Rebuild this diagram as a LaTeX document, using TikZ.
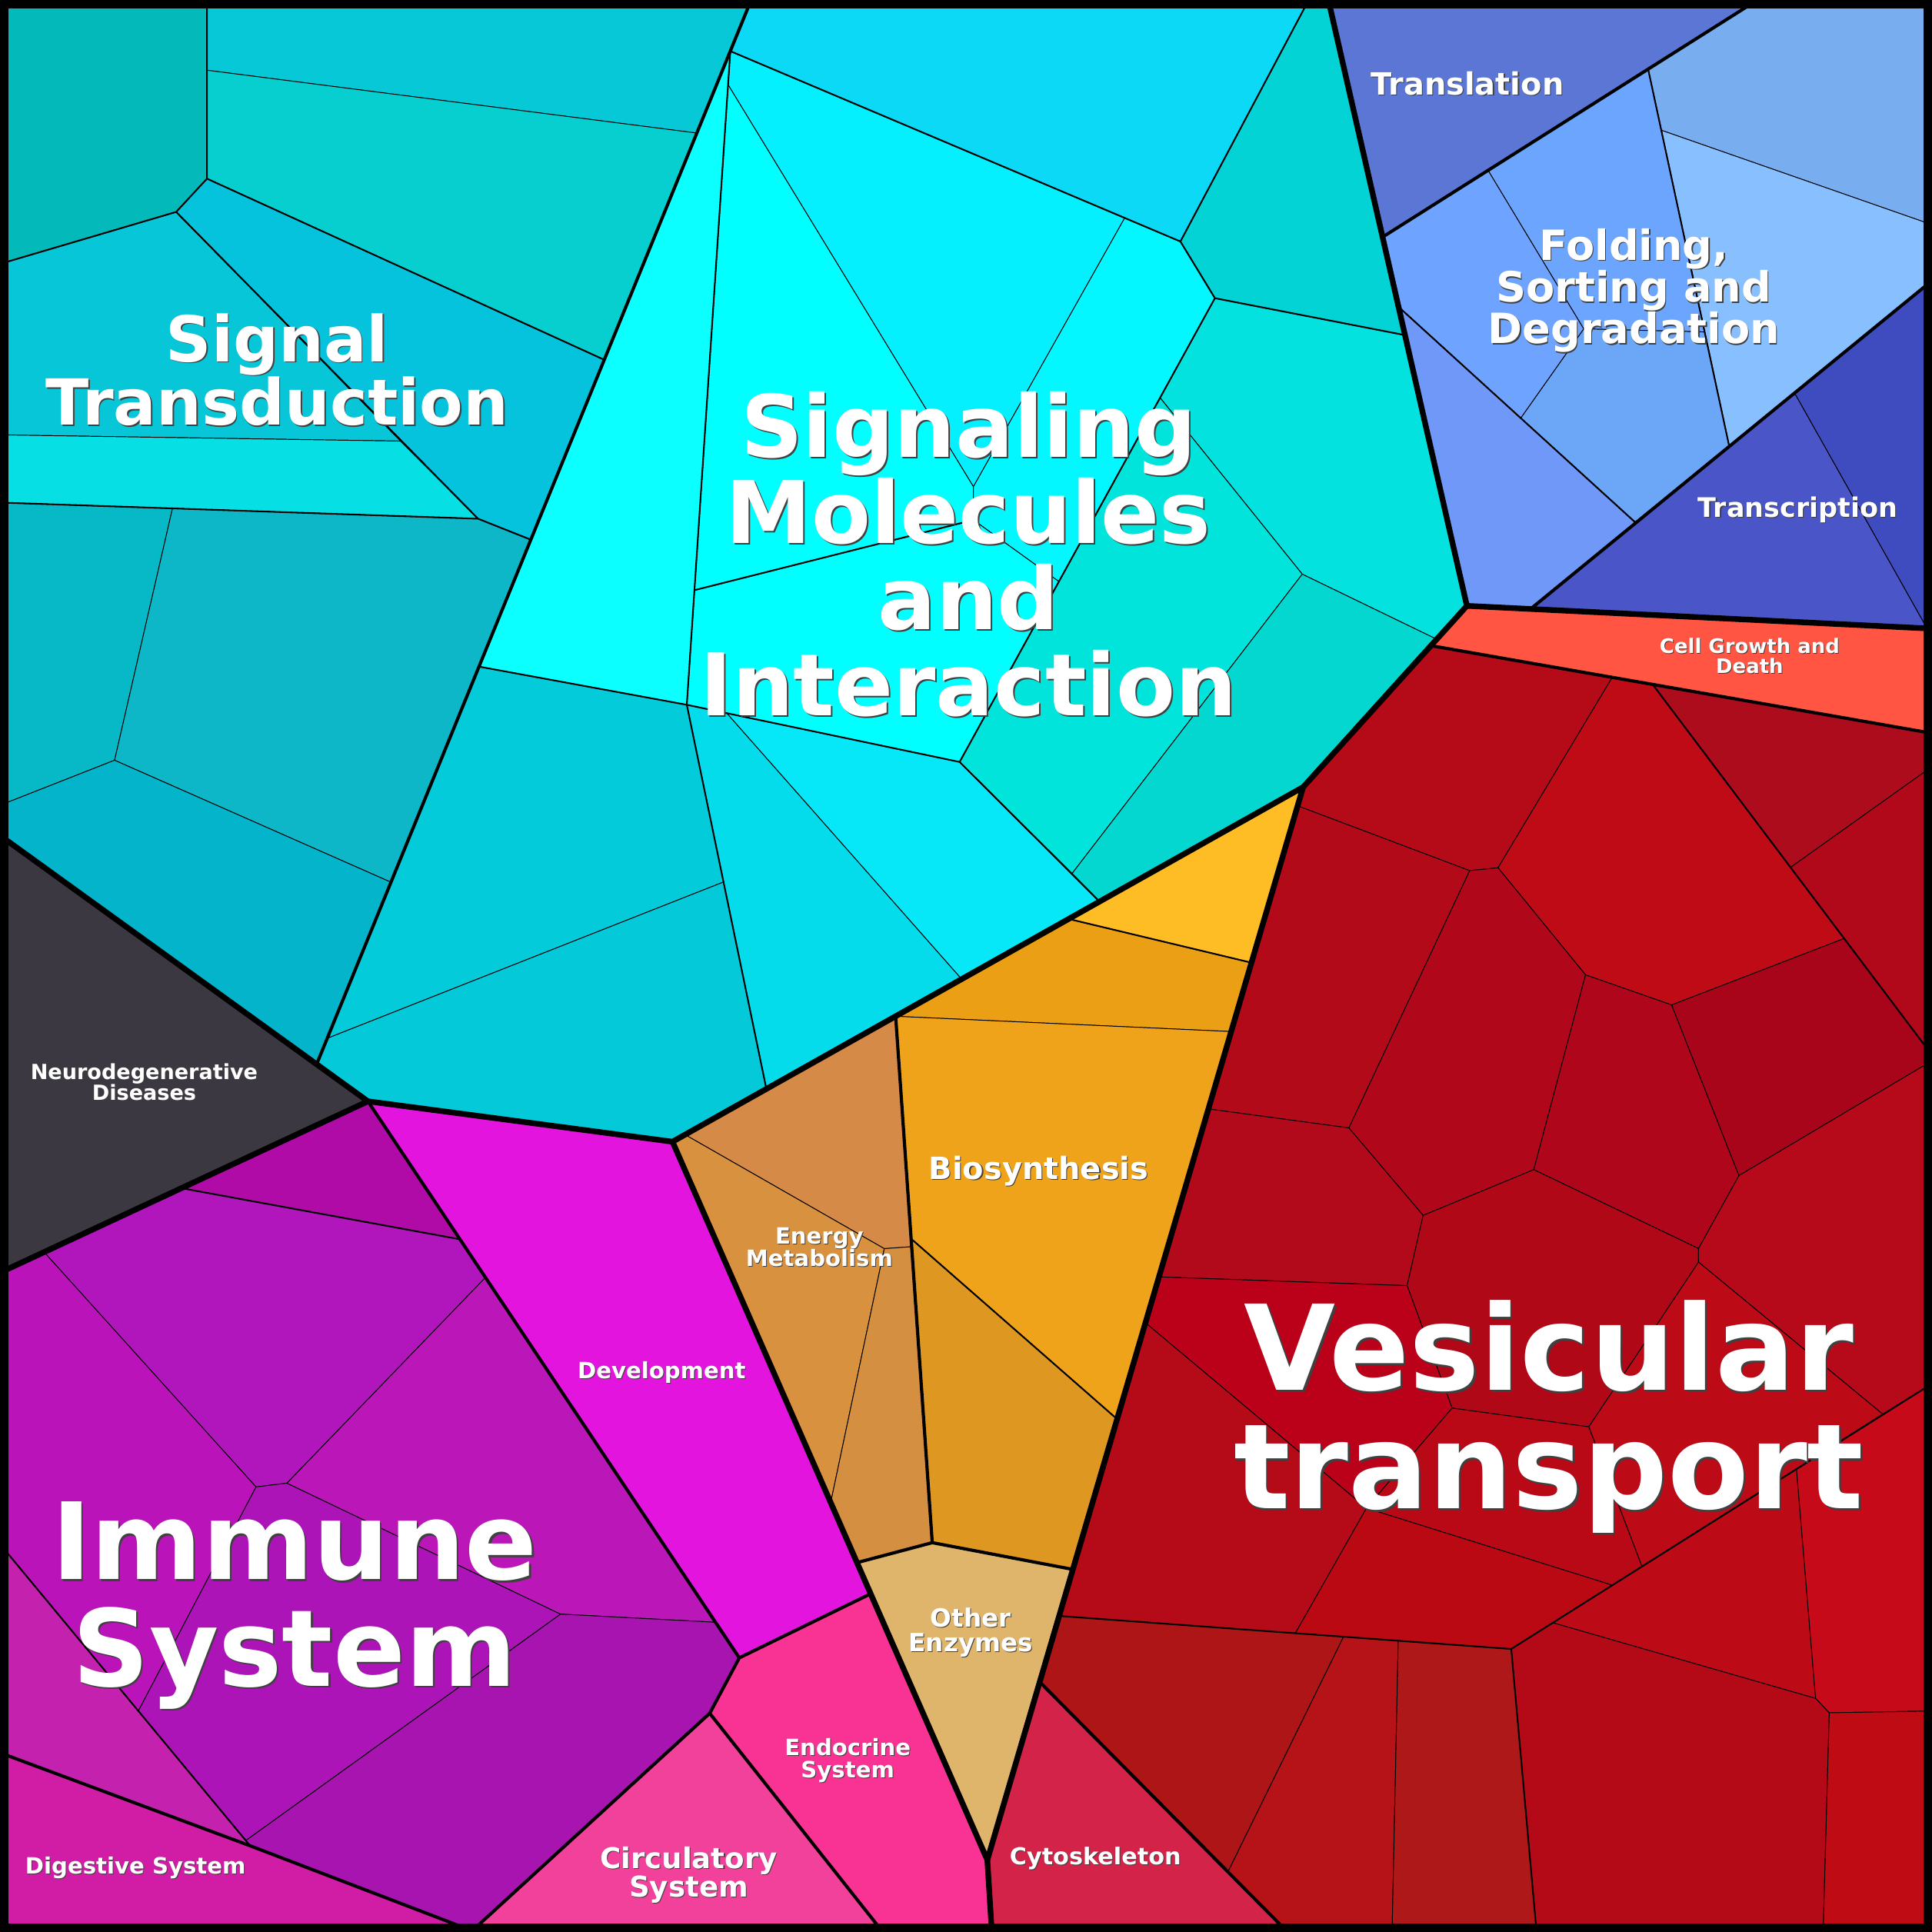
\documentclass[tikz,border=0pt]{standalone}
\usepackage{fontspec}
\setmainfont{DejaVu Sans}
\tikzset{hx/.code={\definecolor{hxc}{HTML}{#1}\pgfkeysalso{fill=hxc}}}
\newcommand{\maplabel}[4]{%
  \pgfmathsetmacro{\lblshift}{0.4+0.012*#3}%
  \node[lblsh,font=\fontsize{#3}{#3}\selectfont\bfseries,xshift=\lblshift pt,yshift=-\lblshift pt] (#1-sh) at (#2) {#4};
  \node[lbl,font=\fontsize{#3}{#3}\selectfont\bfseries] (#1) at (#2) {#4};}
\begin{document}
\begin{tikzpicture}[x=1pt,y=-1pt,line join=round,
cell/.style={draw=black,line width=0.6pt},
grp/.style={line width=1.3pt},
sub/.style={line width=2.6pt},
cat/.style={line width=4.6pt},
lbl/.style={text=white,align=center,inner sep=0pt},
lblsh/.style={text=black!75,align=center,inner sep=0pt}]

\useasboundingbox (0,0) rectangle (1568,1568);
\fill[black] (0,0) rectangle (1568,1568);

\coordinate (TL) at (4,4);
\coordinate (TR) at (1564,4);
\coordinate (BL) at (4,1564);
\coordinate (BR) at (1564,1564);
\coordinate (A0) at (608,4);
\coordinate (A1) at (257,863.7);
\coordinate (NL) at (4,681);
\coordinate (ND) at (298.6,893.8);
\coordinate (NB) at (4,1031);
\coordinate (EM) at (545.8,926.6);
\coordinate (EC) at (1057.6,638.8);
\coordinate (EG) at (1190.5,491.7);
\coordinate (GT) at (1079,4);

\coordinate (s1) at (168,4);
\coordinate (s2) at (168,145);
\coordinate (s3) at (143,172);
\coordinate (s4) at (4,213);
\coordinate (s5) at (168,57);
\coordinate (s6) at (565.5,108);
\coordinate (s7) at (490.4,292);
\coordinate (s8) at (388,421);
\coordinate (s9) at (325,358);
\coordinate (s10) at (4,353);
\coordinate (s11) at (4,408);
\coordinate (s12) at (430.8,438);
\coordinate (s13) at (140,412.6);
\coordinate (s14) at (93,617);
\coordinate (s15) at (4,652);
\coordinate (s16) at (317.3,716);

\coordinate (m0) at (592.7,41.5);
\coordinate (m1) at (1060,4);
\coordinate (m2) at (958,196);
\coordinate (m3) at (986,242);
\coordinate (m4) at (1140.3,272);
\coordinate (m5) at (912.8,176.9);
\coordinate (m6) at (590.9,68.8);
\coordinate (m7) at (563.6,479);
\coordinate (m8) at (557.4,572);
\coordinate (m9) at (388.7,541);
\coordinate (m10) at (778.8,618.4);
\coordinate (m11) at (892.4,731.7);
\coordinate (m12) at (622,883.8);
\coordinate (m13) at (265.6,842.7);
\coordinate (m14) at (587.3,715.8);
\coordinate (m15) at (589.9,578.8);
\coordinate (m16) at (780.5,794.6);
\coordinate (m17) at (941.5,322.8);
\coordinate (m18) at (1056.9,466);
\coordinate (m19) at (1166,518.8);
\coordinate (m20) at (870.1,708.9);
\coordinate (Q1) at (790,395);
\coordinate (Q2) at (790,422);
\coordinate (Q3) at (859.4,472);

\coordinate (g1) at (1420,4);
\coordinate (g2) at (1122.1,192.4);
\coordinate (g3) at (1564,181);
\coordinate (g4) at (1348.3,105.7);
\coordinate (g5) at (1337.6,56.1);
\coordinate (g6) at (1564,231);
\coordinate (g7) at (1403.3,361.7);
\coordinate (g8) at (1327,423.8);
\coordinate (g9) at (1242.2,494.2);
\coordinate (g10) at (1207.7,138.3);
\coordinate (g11) at (1285.3,266.9);
\coordinate (g12) at (1383.5,269.4);
\coordinate (g13) at (1234.2,339.3);
\coordinate (g14) at (1135,249);
\coordinate (g15) at (1456.3,318.6);
\coordinate (g16) at (1564,510);

\coordinate (c1) at (1161.3,524);
\coordinate (c2) at (1564,594.4);
\coordinate (P2) at (1308.5,549.7);
\coordinate (P3) at (1341.3,555.5);
\coordinate (P4) at (1215.8,704.3);
\coordinate (P5) at (1192.7,706.6);
\coordinate (P6) at (1053.1,654);
\coordinate (P7) at (1286.8,791.2);
\coordinate (P8) at (1356.7,815.6);
\coordinate (P9) at (1496.7,761.7);
\coordinate (P10) at (1564,851);
\coordinate (P11) at (1453.2,704);
\coordinate (P12) at (1564,625);
\coordinate (P13) at (1411.3,954.1);
\coordinate (P14) at (1564,863.3);
\coordinate (P15) at (1094.7,915.4);
\coordinate (P16) at (980.7,900);
\coordinate (P17) at (1244.8,949.3);
\coordinate (P18) at (1155,986.4);
\coordinate (P19) at (1378.5,1013.3);
\coordinate (P20) at (1378.5,1024.3);
\coordinate (P21) at (1528,1147.7);
\coordinate (P22) at (1564,1125.5);
\coordinate (P23) at (1289.5,1158);
\coordinate (P24) at (1142,1043.4);
\coordinate (P25) at (940.6,1036.3);
\coordinate (P26) at (1178.5,1142.8);
\coordinate (P28) at (929.6,1073.5);
\coordinate (P29) at (1109,1224);
\coordinate (P30) at (1308.5,1286.5);
\coordinate (P31) at (1332.6,1271.2);
\coordinate (P32) at (1458,1192);
\coordinate (P33) at (1226.5,1338.3);
\coordinate (P34) at (859.6,1311.5);
\coordinate (P35) at (1051.3,1325.5);
\coordinate (P36) at (1134.8,1331.7);
\coordinate (P37) at (1260.2,1317);
\coordinate (P38) at (1473.5,1378.4);
\coordinate (P39) at (1484.6,1390.1);
\coordinate (P40) at (1564,1388.7);
\coordinate (P41) at (1246.7,1564);
\coordinate (P42) at (1129.9,1564);
\coordinate (P43) at (1090.4,1328.4);
\coordinate (P44) at (996.6,1519.2);
\coordinate (P45) at (1479.8,1564);
\coordinate (CK) at (843.8,1365);
\coordinate (CB) at (1041,1564);
\coordinate (OC1) at (801.3,1509.5);
\coordinate (OC2) at (804.7,1564);

\coordinate (b1) at (867.3,745.8);
\coordinate (b2) at (1015.6,781.3);
\coordinate (b3) at (726.9,824.8);
\coordinate (b4) at (999.2,837.2);
\coordinate (b5) at (739.4,1005.3);
\coordinate (b6) at (906.6,1151.7);
\coordinate (b7) at (870.7,1273.7);
\coordinate (b8) at (756.6,1252);
\coordinate (e1) at (556,920.9);
\coordinate (e2) at (717.7,1013.4);
\coordinate (e3) at (739.9,1011.8);
\coordinate (e4) at (674.2,1219.4);
\coordinate (e5) at (695.6,1268.2);

\coordinate (DE) at (706.6,1293.5);
\coordinate (DI) at (600,1345.5);
\coordinate (IC) at (576,1390.5);
\coordinate (EC2) at (713.3,1564);
\coordinate (CI) at (386.5,1564);
\coordinate (i1) at (147.3,964.3);
\coordinate (i2) at (373.3,1005.8);
\coordinate (i3) at (35.8,1016.2);
\coordinate (i4) at (207.8,1206.8);
\coordinate (i5) at (232.9,1203.7);
\coordinate (i6) at (394,1036.8);
\coordinate (i7) at (455,1310);
\coordinate (i8) at (580.7,1316.6);
\coordinate (i9) at (112.3,1388.6);
\coordinate (i10) at (4,1258);
\coordinate (i11) at (203,1498);
\coordinate (i12) at (199.5,1493.8);
\coordinate (DG1) at (4,1424);
\coordinate (DG2) at (375.5,1564);

\filldraw[cell,hx=03B9BA] (TL)--(s1)--(s2)--(s3)--(s4)--cycle;
\filldraw[cell,hx=07C8D6] (s1)--(A0)--(s6)--(s5)--cycle;
\filldraw[cell,hx=08CFCF] (s5)--(s6)--(s7)--(s2)--cycle;
\filldraw[cell,hx=06C6D7] (s4)--(s3)--(s9)--(s10)--cycle;
\filldraw[cell,hx=05C3DC] (s3)--(s2)--(s7)--(s12)--(s8)--cycle;
\filldraw[cell,hx=06DFE3] (s10)--(s9)--(s8)--(s11)--cycle;
\filldraw[cell,hx=07B8C7] (s11)--(s13)--(s14)--(s15)--cycle;
\filldraw[cell,hx=0DB7C8] (s13)--(s8)--(s12)--(s16)--(s14)--cycle;
\filldraw[cell,hx=04B4CB] (s15)--(s14)--(s16)--(A1)--(NL)--cycle;

\filldraw[cell,hx=0CD9F6] (m0)--(A0)--(m1)--(m2)--cycle;
\filldraw[cell,hx=04D3D6] (m1)--(GT)--(m4)--(m3)--(m2)--cycle;
\filldraw[cell,hx=05F0FF] (m0)--(m5)--(Q1)--(m6)--cycle;
\filldraw[cell,hx=00FFFF] (m6)--(Q1)--(Q2)--(m7)--cycle;
\filldraw[cell,hx=02F7FF] (m5)--(m2)--(m3)--(m17)--(Q3)--(Q2)--(Q1)--cycle;
\filldraw[cell,hx=00FFFF] (m7)--(Q2)--(Q3)--(m10)--(m8)--cycle;
\filldraw[cell,hx=0CFFFF] (m0)--(m6)--(m7)--(m8)--(m9)--cycle;
\filldraw[cell,hx=04CBDA] (m9)--(m8)--(m14)--(m13)--cycle;
\filldraw[cell,hx=04C9D9] (m13)--(m14)--(m12)--(EM)--(ND)--(A1)--cycle;
\filldraw[cell,hx=04DCEC] (m8)--(m15)--(m16)--(m12)--cycle;
\filldraw[cell,hx=06E8F7] (m15)--(m10)--(m11)--(m16)--cycle;
\filldraw[cell,hx=03E2DE] (m3)--(m4)--(EG)--(m19)--(m18)--(m17)--cycle;
\filldraw[cell,hx=00E4DB] (m17)--(m18)--(m20)--(m10)--(Q3)--cycle;
\filldraw[cell,hx=04D6D0] (m18)--(m19)--(EC)--(m11)--(m20)--cycle;

\filldraw[cell,hx=3C3841] (NL)--(A1)--(ND)--(NB)--cycle;

\filldraw[cell,hx=5B76D4] (GT)--(g1)--(g2)--cycle;
\filldraw[cell,hx=78AEF0] (g1)--(TR)--(g3)--(g4)--(g5)--cycle;
\filldraw[cell,hx=88BFFF] (g4)--(g3)--(g6)--(g7)--cycle;
\filldraw[cell,hx=6CA5FD] (g10)--(g5)--(g12)--(g11)--cycle;
\filldraw[cell,hx=6BA6F7] (g11)--(g12)--(g7)--(g8)--(g13)--cycle;
\filldraw[cell,hx=6EA4FF] (g2)--(g10)--(g11)--(g13)--(g14)--cycle;
\filldraw[cell,hx=7098F8] (g14)--(g8)--(g9)--(EG)--cycle;
\filldraw[cell,hx=4A55C8] (g9)--(g15)--(g16)--cycle;
\filldraw[cell,hx=3F4CC0] (g15)--(g6)--(g16)--cycle;

\filldraw[cell,hx=FF5542] (EG)--(g16)--(c2)--(c1)--cycle;

\filldraw[cell,hx=B50A18] (EC)--(c1)--(P2)--(P4)--(P5)--(P6)--cycle;
\filldraw[cell,hx=BF0B15] (P2)--(P3)--(P9)--(P8)--(P7)--(P4)--cycle;
\filldraw[cell,hx=AD0C1C] (P3)--(c2)--(P12)--(P11)--cycle;
\filldraw[cell,hx=B1091A] (P11)--(P12)--(P10)--cycle;
\filldraw[cell,hx=B0081A] (P5)--(P4)--(P7)--(P17)--(P18)--(P15)--cycle;
\filldraw[cell,hx=B30A1A] (P6)--(P5)--(P15)--(P16)--cycle;
\filldraw[cell,hx=B0061B] (P7)--(P8)--(P13)--(P19)--(P17)--cycle;
\filldraw[cell,hx=A8051A] (P8)--(P9)--(P10)--(P14)--(P13)--cycle;
\filldraw[cell,hx=B20A1B] (P16)--(P15)--(P18)--(P24)--(P25)--cycle;
\filldraw[cell,hx=B00817] (P18)--(P17)--(P19)--(P20)--(P23)--(P26)--(P24)--cycle;
\filldraw[cell,hx=B6091A] (P13)--(P14)--(P22)--(P21)--(P20)--(P19)--cycle;
\filldraw[cell,hx=BB0019] (P25)--(P24)--(P26)--(P29)--(P28)--cycle;
\filldraw[cell,hx=B90816] (P26)--(P23)--(P31)--(P30)--(P29)--cycle;
\filldraw[cell,hx=BC0A16] (P20)--(P21)--(P32)--(P31)--(P23)--cycle;
\filldraw[cell,hx=B50A18] (P28)--(P29)--(P35)--(P34)--cycle;
\filldraw[cell,hx=BA0913] (P29)--(P30)--(P33)--(P35)--cycle;
\filldraw[cell,hx=BC0B16] (P37)--(P32)--(P38)--cycle;
\filldraw[cell,hx=C70A19] (P32)--(P21)--(P22)--(P40)--(P39)--(P38)--cycle;
\filldraw[cell,hx=B40A18] (P33)--(P37)--(P38)--(P39)--(P45)--(P41)--cycle;
\filldraw[cell,hx=BF0C14] (P39)--(P40)--(BR)--(P45)--cycle;
\filldraw[cell,hx=AD1517] (P34)--(P43)--(P44)--(CK)--cycle;
\filldraw[cell,hx=B51317] (P43)--(P36)--(P42)--(CB)--(P44)--cycle;
\filldraw[cell,hx=AE1818] (P36)--(P33)--(P41)--(P42)--cycle;
\filldraw[cell,hx=D42348] (CK)--(CB)--(OC2)--(OC1)--cycle;

\filldraw[cell,hx=D58A47] (e1)--(b3)--(e3)--(e2)--cycle;
\filldraw[cell,hx=D8913F] (EM)--(e1)--(e2)--(e4)--cycle;
\filldraw[cell,hx=D48F41] (e2)--(e3)--(b8)--(e5)--(e4)--cycle;
\filldraw[cell,hx=FEBD24] (b1)--(EC)--(b2)--cycle;
\filldraw[cell,hx=EB9F15] (b3)--(b1)--(b2)--(b4)--cycle;
\filldraw[cell,hx=EEA31A] (b3)--(b4)--(b6)--(b5)--cycle;
\filldraw[cell,hx=DE9822] (b5)--(b6)--(b7)--(b8)--cycle;
\filldraw[cell,hx=DFB56B] (e5)--(b8)--(b7)--(CK)--(OC1)--cycle;

\filldraw[cell,hx=E414DF] (ND)--(EM)--(DE)--(DI)--cycle;
\filldraw[cell,hx=F93393] (DI)--(DE)--(OC1)--(OC2)--(EC2)--(IC)--cycle;
\filldraw[cell,hx=F2419A] (IC)--(EC2)--(CI)--cycle;
\filldraw[cell,hx=B00BA7] (i1)--(ND)--(i2)--cycle;
\filldraw[cell,hx=B016BC] (i3)--(i1)--(i2)--(i6)--(i5)--(i4)--cycle;
\filldraw[cell,hx=BB13BA] (NB)--(i3)--(i4)--(i9)--(i10)--cycle;
\filldraw[cell,hx=C422AE] (i10)--(i9)--(i12)--(i11)--(DG1)--cycle;
\filldraw[cell,hx=AC14B8] (i4)--(i5)--(i7)--(i12)--(i9)--cycle;
\filldraw[cell,hx=BB16B8] (i5)--(i6)--(i8)--(i7)--cycle;
\filldraw[cell,hx=A714B0] (i7)--(i8)--(DI)--(IC)--(CI)--(DG2)--(i11)--(i12)--cycle;
\filldraw[cell,hx=D11CA5] (DG1)--(i11)--(DG2)--(BL)--cycle;

\draw[grp] (s1)--(s2)--(s3)--(s4) (s2)--(s7) (s3)--(s8) (s11)--(s8)--(s12);
\draw[grp] (m0)--(m8) (m0)--(m2)--(m1) (m2)--(m3)--(m4) (m3)--(m10) (m9)--(m8)--(m10)--(m11) (m8)--(m12) (m7)--(Q2);
\draw[grp] (g5)--(g7) (g14)--(g8);
\draw[grp] (P3)--(P10) (P22)--(P33)--(P34) (P33)--(P41);
\draw[grp] (i1)--(i2) (i10)--(i11);
\draw[grp] (b1)--(b2) (b5)--(b6);

\draw[sub] (A0)--(A1);
\draw[sub] (g2)--(g1) (g6)--(g9);
\draw[sub] (c1)--(c2);
\draw[sub] (CK)--(CB);
\draw[sub] (b3)--(b8) (e5)--(b8)--(b7);
\draw[sub] (ND)--(DI)--(DE) (DI)--(IC)--(CI) (IC)--(EC2) (DG1)--(i11)--(DG2);

\draw[cat] (GT)--(EG)--(EC)--(EM)--(ND);
\draw[cat] (NL)--(ND)--(NB);
\draw[cat] (EM)--(OC1)--(OC2);
\draw[cat] (EC)--(OC1);
\draw[cat] (EG)--(g16);

\draw[line width=7pt] (3.5,3.5) rectangle (1564.5,1564.5);

\maplabel{signal}{225,300}{51.5}{Signal\\Transduction}
\maplabel{molecules}{786,450}{70}{Signaling\\Molecules\\and\\Interaction}
\maplabel{vesicular}{1257,1150}{96}{Vesicular\\transport}
\maplabel{immune}{239,1303}{86.5}{Immune\\System}
\maplabel{folding}{1326,236}{33.8}{Folding,\\Sorting and\\Degradation}
\maplabel{translation}{1191,67.6}{24.9}{Translation}
\maplabel{transcription}{1459,414}{21.8}{Transcription}
\maplabel{growth}{1420,532.4}{16.2}{Cell Growth and\\Death}
\maplabel{neuro}{117,878}{16.9}{Neurodegenerative\\Diseases}
\maplabel{development}{537,1114}{18.2}{Development}
\maplabel{energy}{665,1012}{18.2}{Energy\\Metabolism}
\maplabel{biosynthesis}{843,950.5}{24.9}{Biosynthesis}
\maplabel{enzymes}{788,1325}{20.4}{Other\\Enzymes}
\maplabel{endocrine}{688,1429}{18.2}{Endocrine\\System}
\maplabel{circulatory}{559,1521.5}{23.2}{Circulatory\\System}
\maplabel{cytoskeleton}{889,1508}{18.9}{Cytoskeleton}
\maplabel{digestive}{110,1516}{18.2}{Digestive System}
\end{tikzpicture}
\end{document}
